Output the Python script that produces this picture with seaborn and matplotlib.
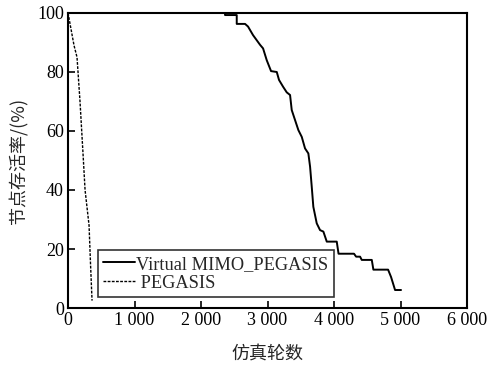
import matplotlib
matplotlib.use("Agg")
import matplotlib.pyplot as plt
import numpy as np
import pandas as pd
import seaborn as sns
from matplotlib.ticker import FuncFormatter

# ---------------------------------------------------------------------------
# Data
# ---------------------------------------------------------------------------
mimo_rounds = [0, 2361, 2361, 2537, 2537, 2662, 2707, 2782, 2888, 2933, 2988,
               3053, 3139, 3173, 3234, 3289, 3339, 3364, 3414, 3464, 3515,
               3564, 3614, 3640, 3665, 3689, 3740, 3790, 3840, 3891, 4041,
               4068, 4301, 4332, 4392, 4417, 4568, 4592, 4813, 4858, 4918,
               5008]
mimo_alive = [100, 100, 99.3, 99.3, 96.3, 96.3, 95.4, 92.5, 89.2, 88.0, 84.0,
              80.3, 80.0, 77.3, 75.0, 73.1, 72.2, 67.1, 63.7, 60.3, 58.0,
              54.1, 52.4, 47.9, 41.1, 34.3, 28.7, 26.4, 25.9, 22.5, 22.5,
              18.4, 18.4, 17.4, 17.4, 16.3, 16.3, 13.0, 13.0, 10.5, 6.1,
              6.1]

pegasis_rounds = [0, 90, 135, 180, 226, 256, 316, 338, 361]
pegasis_alive = [100, 89, 85, 70, 52, 40, 28, 15, 2.5]

series_labels = ["Virtual MIMO_PEGASIS", " PEGASIS"]
x_ticks = [0, 1000, 2000, 3000, 4000, 5000, 6000]
y_ticks = [0, 20, 40, 60, 80, 100]

# ---------------------------------------------------------------------------
# Plot
# ---------------------------------------------------------------------------
sns.set_theme(style="white")
plt.rcParams["font.family"] = ["Liberation Serif", "Noto Sans CJK SC"]
plt.rcParams["font.size"] = 13

mimo = pd.DataFrame({"rounds": mimo_rounds, "alive": mimo_alive})
peg = pd.DataFrame({"rounds": pegasis_rounds, "alive": pegasis_alive})

fig = plt.figure(figsize=(5.04, 3.69), dpi=100)
ax = fig.add_axes([0.135, 0.1653, 0.7916, 0.7995])

sns.lineplot(data=mimo, x="rounds", y="alive", ax=ax, estimator=None,
             sort=False, color="black", linewidth=1.4, label=series_labels[0])
sns.lineplot(data=peg, x="rounds", y="alive", ax=ax, estimator=None,
             sort=False, color="black", linewidth=1.0, label=series_labels[1],
             dashes=False)
ax.lines[1].set_dashes([2, 1])

ax.set_xlim(0, 6000)
ax.set_ylim(0, 100)
ax.set_xticks(x_ticks)
ax.set_yticks(y_ticks)
ax.xaxis.set_major_formatter(
    FuncFormatter(lambda v, _: f"{int(v):,}".replace(",", " ")))
ax.tick_params(direction="in", length=5, width=1.2, labelsize=13,
               colors="black", bottom=True, left=True, top=False, right=False,
               pad=3)

for sp in ax.spines.values():
    sp.set_color("black")
    sp.set_linewidth(1.5)

ax.set_xlabel("仿真轮数", fontsize=13, family="Noto Sans CJK SC", labelpad=12)
ax.set_ylabel("节点存活率/(%)", fontsize=13,
              family=["Noto Sans CJK SC", "Liberation Serif"], labelpad=6)

leg = ax.legend(loc="lower left", bbox_to_anchor=(0.075, 0.037),
                borderaxespad=0, frameon=True, fancybox=False,
                handlelength=1.7, handletextpad=0.1, labelspacing=0.1,
                borderpad=0.3, fontsize=13.2)
leg.get_frame().set_edgecolor("black")
leg.get_frame().set_linewidth(1.2)
leg.get_frame().set_boxstyle("square", pad=0)

fig.savefig("out.png", dpi=100)
